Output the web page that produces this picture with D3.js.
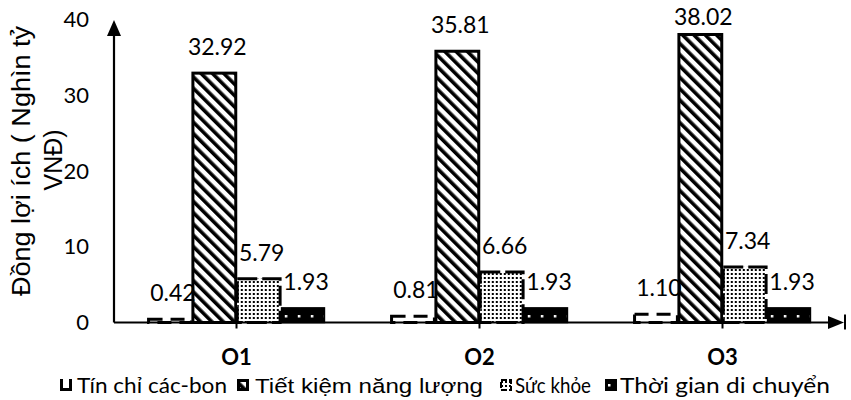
<!DOCTYPE html>
<html>
<head>
<meta charset="utf-8">
<script src="https://cdn.jsdelivr.net/npm/d3@7"></script>
<style>
  html, body { margin: 0; padding: 0; background: #fff; }
  svg { display: block; }
</style>
</head>
<body>
<svg id="chart" width="851" height="400"></svg>
<script>
const categories = ["O1", "O2", "O3"];
const seriesNames = ["Tín chỉ các-bon", "Tiết kiệm năng lượng", "Sức khỏe", "Thời gian di chuyển"];
const tinChiCacBon = [0.42, 0.81, 1.10];
const tietKiemNangLuong = [32.92, 35.81, 38.02];
const sucKhoe = [5.79, 6.66, 7.34];
const thoiGianDiChuyen = [1.93, 1.93, 1.93];
const yTicks = [0, 10, 20, 30, 40];
const yTitleLines = ["Đồng lợi ích ( Nghìn tỷ", "VNĐ)"];

const seriesValues = [tinChiCacBon, tietKiemNangLuong, sucKhoe, thoiGianDiChuyen];
const svg = d3.select("#chart");
const defs = svg.append("defs");

// patterns
const hatch = defs.append("pattern").attr("id", "hatch").attr("patternUnits", "userSpaceOnUse")
  .attr("width", 8).attr("height", 8).attr("patternTransform", "rotate(-45)");
hatch.append("rect").attr("width", 8).attr("height", 8).attr("fill", "#fff");
hatch.append("rect").attr("x", 0).attr("y", 0).attr("width", 3.6).attr("height", 8).attr("fill", "#000");

const dots = defs.append("pattern").attr("id", "dots").attr("patternUnits", "userSpaceOnUse")
  .attr("width", 4).attr("height", 4);
dots.append("rect").attr("width", 4).attr("height", 4).attr("fill", "#fff");
dots.append("rect").attr("x", 1).attr("y", 1).attr("width", 2).attr("height", 2).attr("fill", "#000");

const blackDots = defs.append("pattern").attr("id", "blackdots").attr("patternUnits", "userSpaceOnUse")
  .attr("width", 13).attr("height", 10).attr("x", 2).attr("y", 2);
blackDots.append("rect").attr("width", 13).attr("height", 10).attr("fill", "#000");
blackDots.append("rect").attr("x", 5).attr("y", 3).attr("width", 2.5).attr("height", 2.5).attr("fill", "#fff");

const seriesStyle = [
  { fill: "#fff", stroke: "#000", dash: "14,8", sw: 3 },
  { fill: "url(#hatch)", stroke: "#000", dash: null, sw: 3 },
  { fill: "url(#dots)", stroke: "#000", dash: "20,5", sw: 3 },
  { fill: "url(#blackdots)", stroke: "#000", dash: null, sw: 1.5 }
];

const x0 = d3.scaleBand().domain(categories).range([115, 844]).paddingInner(0.27).paddingOuter(0.135);
const x1 = d3.scaleBand().domain(seriesNames).range([0, x0.bandwidth()]);
const y = d3.scaleLinear().domain([0, 40]).range([322.5, 19.5]);

// bars
const groups = svg.append("g").selectAll("g").data(categories).join("g")
  .attr("transform", d => `translate(${x0(d)},0)`);

groups.each(function(cat, ci) {
  const g = d3.select(this);
  seriesNames.forEach((s, si) => {
    const v = seriesValues[si][ci];
    const st = seriesStyle[si];
    g.append("rect")
      .attr("x", x1(s) + 0.75)
      .attr("y", y(v))
      .attr("width", x1.bandwidth() - 1.5)
      .attr("height", y(0) - y(v))
      .attr("fill", st.fill)
      .attr("stroke", st.stroke)
      .attr("stroke-width", st.sw)
      .attr("stroke-dasharray", st.dash);
  });
});

// data labels
groups.each(function(cat, ci) {
  const g = d3.select(this);
  seriesNames.forEach((s, si) => {
    const v = seriesValues[si][ci];
    const cy = Math.max(y(v) - 26, 17);
    g.append("text")
      .attr("x", x1(s) + x1.bandwidth() / 2 + 3)
      .attr("y", cy + 8)
      .attr("text-anchor", "middle")
      .attr("font-family", "Lato, 'Open Sans', sans-serif")
      .attr("font-size", 23)
      .attr("fill", "#000")
      .text(v.toFixed(2));
  });
});

// y axis labels
const yAxis = svg.append("g").attr("transform", "translate(114,0)")
  .call(d3.axisLeft(y).tickValues(yTicks).tickSize(0).tickPadding(25).tickFormat(d3.format("d")));
yAxis.select(".domain").remove();
yAxis.selectAll("text").attr("font-family", "Lato, 'Open Sans', sans-serif").attr("font-size", 22).attr("fill", "#000");

// x axis ticks + labels
const xAxis = svg.append("g").attr("transform", `translate(0,${y(0)})`)
  .call(d3.axisBottom(x0).tickSize(6).tickPadding(21));
xAxis.select(".domain").remove();
xAxis.selectAll("line").attr("stroke", "#000").attr("stroke-width", 2);
xAxis.selectAll("text").attr("font-family", "Lato, 'Open Sans', sans-serif").attr("font-weight", "bold")
  .attr("font-size", 22).attr("fill", "#000");

// axis lines with arrows
const y0 = y(0);
svg.append("line").attr("x1", 114).attr("x2", 114).attr("y1", y0).attr("y2", 34)
  .attr("stroke", "#000").attr("stroke-width", 2.2);
svg.append("path").attr("d", `M114,20 L107,36 L121,36 Z`).attr("fill", "#000");
svg.append("line").attr("x1", 114).attr("x2", 830).attr("y1", y0).attr("y2", y0)
  .attr("stroke", "#000").attr("stroke-width", 2.2);
svg.append("path").attr("d", `M844,${y0} L828,${y0 - 6.5} L828,${y0 + 6.5} Z`).attr("fill", "#000");
svg.append("line").attr("x1", 845).attr("x2", 845).attr("y1", y0 - 8).attr("y2", y0 + 7)
  .attr("stroke", "#000").attr("stroke-width", 2);

// y title
svg.append("text")
  .attr("transform", "translate(30,161) rotate(-90)")
  .attr("text-anchor", "middle")
  .attr("font-family", "'Liberation Sans', Arial, sans-serif")
  .attr("font-size", 25)
  .attr("fill", "#000")
  .attr("textLength", 270).attr("lengthAdjust", "spacingAndGlyphs")
  .text(yTitleLines[0]);
svg.append("text")
  .attr("transform", "translate(62,160) rotate(-90)")
  .attr("text-anchor", "middle")
  .attr("font-family", "'Liberation Sans', Arial, sans-serif")
  .attr("font-size", 25)
  .attr("fill", "#000")
  .text(yTitleLines[1]);

// legend
const legendItems = [
  { mx: 60, tx: 77, tw: 150, font: "Lato, 'Open Sans', sans-serif", size: 22 },
  { mx: 237, tx: 255, tw: 228, font: "'Liberation Sans', Arial, sans-serif", size: 21 },
  { mx: 500, tx: 515, tw: 76, font: "Lato, 'Open Sans', sans-serif", size: 22 },
  { mx: 605, tx: 620, tw: 210, font: "Lato, 'Open Sans', sans-serif", size: 22 }
];
const legend = svg.append("g");
seriesNames.forEach((s, i) => {
  const it = legendItems[i];
  const my = 379, ms = 12;
  if (i === 0) {
    legend.append("rect").attr("x", it.mx).attr("y", my).attr("width", ms).attr("height", ms).attr("fill", "#fff");
    legend.append("path").attr("d", `M${it.mx + 1.5},${my} V${my + ms - 1.5} H${it.mx + ms - 1.5} V${my}`)
      .attr("fill", "none").attr("stroke", "#000").attr("stroke-width", 3);
  } else if (i === 1) {
    legend.append("rect").attr("x", it.mx + 1.5).attr("y", my + 1.5).attr("width", ms - 3).attr("height", ms - 3)
      .attr("fill", "url(#hatch)").attr("stroke", "#000").attr("stroke-width", 3);
  } else if (i === 2) {
    legend.append("rect").attr("x", it.mx + 1).attr("y", my + 1).attr("width", ms - 2).attr("height", ms - 2)
      .attr("fill", "url(#dots)").attr("stroke", "#000").attr("stroke-width", 2).attr("stroke-dasharray", "6,2");
  } else {
    legend.append("rect").attr("x", it.mx).attr("y", my).attr("width", ms).attr("height", ms).attr("fill", "#000");
    legend.append("rect").attr("x", it.mx + 3).attr("y", my + 5).attr("width", 2.5).attr("height", 2.5).attr("fill", "#fff");
  }
  legend.append("text")
    .attr("x", it.tx).attr("y", 393)
    .attr("font-family", it.font)
    .attr("font-size", it.size)
    .attr("fill", "#000")
    .attr("textLength", it.tw).attr("lengthAdjust", "spacingAndGlyphs")
    .text(s);
});
</script>
</body>
</html>
